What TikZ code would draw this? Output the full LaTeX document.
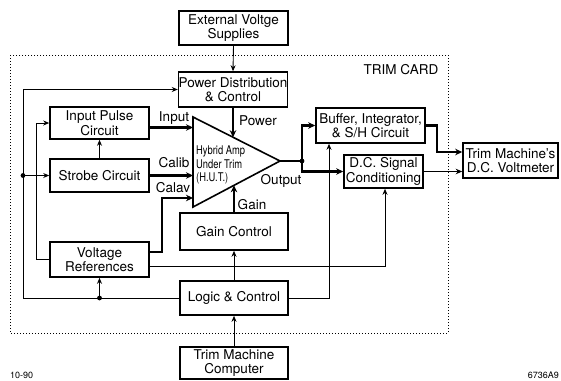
\documentclass[tikz,border=0pt]{standalone}
\usepackage{fontspec}
\setmainfont{TeX Gyre Heros}
\usetikzlibrary{arrows.meta,calc}
\newcommand\dgfont{\fontsize{13.5}{14.5}\selectfont}
\newcommand\hutfont{\fontsize{12}{13.5}\selectfont}
\newcommand\notefont{\fontsize{9}{10}\selectfont}
\begin{document}
\begin{tikzpicture}[x=1pt,y=-1pt,
  blk/.style={draw,line width=1.6pt,inner sep=0pt,align=center,font=\dgfont},
  lbl/.style={inner sep=0pt,font=\dgfont},
  thinarr/.style={line width=0.9pt,-{Stealth[length=6pt,width=5pt]}},
  thinline/.style={line width=0.9pt},
  medarr/.style={line width=1.4pt,-{Stealth[length=6.5pt,width=5.5pt]}},
  thickarr/.style={line width=2.4pt,-{Stealth[length=7pt,width=6.5pt]}},
  thickline/.style={line width=2.4pt},
  cardframe/.style={line width=1pt,dash pattern=on 1pt off 2pt},
  jdot/.style={fill,radius=2.4pt},
  line join=miter]
\useasboundingbox (0,0) rectangle (561,380);

% trim card outline and its title
\draw[cardframe] (10,55) rectangle (448,333);
\node[lbl] (cardtitle) at (401,70) {TRIM CARD};

% blocks
\node[blk,minimum width=109pt,minimum height=34pt] (ext) at (233.5,28) {External Voltge\\Supplies};
\node[blk,minimum width=108pt,minimum height=35pt] (pdc) at (233,89.5) {Power Distribution\\\& Control};
\node[blk,minimum width=99pt,minimum height=32pt] (ipc) at (99.5,123) {Input Pulse\\Circuit};
\node[blk,minimum width=99pt,minimum height=33pt] (sc) at (99.5,175.5) {Strobe Circuit};
\node[blk,minimum width=99pt,minimum height=35pt] (vr) at (99.5,259.5) {Voltage\\References};
\node[blk,minimum width=108pt,minimum height=37pt] (gc) at (234,231.5) {Gain Control};
\node[blk,minimum width=108pt,minimum height=34pt] (lc) at (234,298) {Logic \& Control};
\node[blk,minimum width=108pt,minimum height=32pt] (tmc) at (234,363) {Trim Machine\\Computer};
\node[blk,minimum width=109pt,minimum height=35pt] (buf) at (370.5,125.5) {Buffer, Integrator,\\\& S/H Circuit};
\node[blk,minimum width=79pt,minimum height=33pt] (dcs) at (383.5,171.5) {D.C. Signal\\Conditioning};
\node[blk,minimum width=95pt,minimum height=35pt] (vm) at (510.5,160.5) {Trim Machine's\\D.C. Voltmeter};

% hybrid amplifier under trim
\coordinate (tA) at (193,117);
\coordinate (tB) at (193,207);
\coordinate (tC) at (280,161);
\draw[line width=1.6pt] (tA) -- (tB) -- (tC) -- cycle;
\node[inner sep=0pt,anchor=west,font=\hutfont] (hut1) at (196,151) {\scalebox{0.78}[1]{Hybrid Amp}};
\node[inner sep=0pt,anchor=west,font=\hutfont] (hut2) at (196,164.5) {\scalebox{0.78}[1]{Under Trim}};
\node[inner sep=0pt,anchor=west,font=\hutfont] (hut3) at (196,178) {\scalebox{0.78}[1]{(H.U.T.)}};

% signal labels
\node[lbl] (linput) at (174,118) {Input};
\node[lbl] (lpower) at (258,121) {Power};
\node[lbl] (lcalib) at (174,163) {Calib};
\node[lbl] (lcalav) at (173,188) {Calav};
\node[lbl] (loutput) at (281,181) {Output};
\node[lbl] (lgain) at (252,205) {Gain};

% helper points
\coordinate (pwrin) at ($(tA)!0.46!(tC)$);
\coordinate (gainin) at ($(tB)!0.471!(tC)$);
\coordinate (inpt) at (193,127.5);
\coordinate (cavk) at (162,198);
\coordinate (outj) at (302,161);
\coordinate (bvm) at (437,152);
\coordinate (busbl) at (23,298);
\coordinate (bustl) at (23,89.5);
\coordinate (busj) at (23,175.5);
\coordinate (ibusb) at (36,259.5);
\coordinate (ibust) at (36,123);
\coordinate (vrj) at (vr.south |- lc.west);

% supply path
\draw[thinarr] (ext.south) -- (pdc.north);
\draw[thickarr] (pdc.south) -- (pdc.south |- pwrin);

% amplifier inputs
\draw[thickarr] (inpt -| ipc.east) -- (inpt);
\draw[thickarr] (sc.east) -- (sc.east -| tA);
\draw[thickarr] ([yshift=7.5pt]vr.east) -| (cavk) -- (cavk -| tA);
\draw[thickarr] (gc.north) -- (gc.north |- gainin);
\draw[thinarr] (sc.north) -- (ipc.south);

% amplifier output
\draw[thickline] (tC) -- (outj);
\draw[thickarr] (outj) |- (buf.west);
\draw[thickarr] (outj) |- (dcs.west);
\fill[jdot] (outj) circle;
\draw[thickarr] (buf.east) -| (bvm) -- (bvm -| vm.west);
\draw[medarr] (dcs.east) -- (dcs.east -| vm.west);

% control bus on the left
\draw[thinarr] (lc.west) -- (busbl) -- (bustl) -- (bustl -| pdc.west);
\draw[thinarr] (busj) -- (sc.west);
\fill[jdot] (busj) circle;
\draw[line width=1.3pt,-{Stealth[length=6pt,width=5pt]}] (vrj) -- (vr.south);
\fill[jdot] (vrj) circle;
\draw[thinarr] (vr.west) -- (ibusb) -- (ibust) -- (ipc.west);

% reference and control lines
\draw[thinarr] ([yshift=-6.5pt]vr.east) -| ([xshift=1.5pt]dcs.south);
\draw[thinarr] (lc.north) -- (gc.south);
\draw[thinarr] (lc.east) -| ([xshift=-41.5pt]buf.south);
\draw[thinarr] (tmc.north) -- (lc.south);

% drawing numbers
\node[inner sep=0pt,anchor=west,font=\notefont] (date) at (10,375) {10-90};
\node[inner sep=0pt,anchor=east,font=\notefont] (dwgno) at (559,375) {6736A9};
\end{tikzpicture}
\end{document}
